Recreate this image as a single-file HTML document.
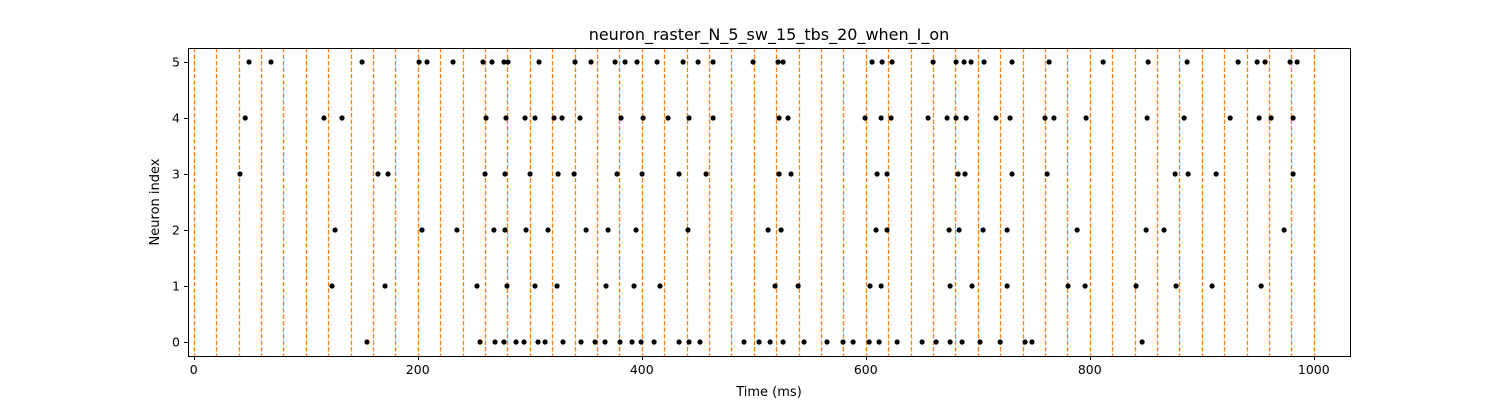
<!DOCTYPE html>
<html><head><meta charset="utf-8"><style>
body{margin:0;background:#fff;}
svg text{font-family:"DejaVu Sans","Liberation Sans",sans-serif;fill:#000;}
</style></head><body>
<svg id="chart" width="1500" height="400" xmlns="http://www.w3.org/2000/svg">
<rect width="1500" height="400" fill="#fff"/>
<text x="769" y="40" font-size="16" text-anchor="middle">neuron_raster_N_5_sw_15_tbs_20_when_I_on</text>
<g id="lines"></g><g id="dots"></g><g id="axes"></g>
<text x="769" y="396" font-size="13" text-anchor="middle">Time (ms)</text>
<text transform="translate(159,202) rotate(-90)" font-size="13" text-anchor="middle">Neuron index</text>
</svg>
<script>
const neuronIds=[0,1,2,3,4,5];
const spikes0=[154.7,255.6,269,277,287.8,294.9,307.4,313.7,329.7,345.8,358.3,367.2,380.6,391.3,399.4,411,433.3,442.2,452,491.3,504.7,514.6,526.2,544.9,565.4,579.7,588.7,603,611.9,628,650.3,662.8,675.3,686,702,720,742.2,748.4,846.7];
const spikes1=[123.5,170.8,252.9,279.7,304.7,324.4,368.1,393.1,416.3,519,539.6,603.8,613.7,675.3,694.9,726.2,780.6,795.8,841.3,877,909.2,953];
const spikes2=[126.2,203.8,235,268,277.9,296.7,316.3,350.3,369.9,394.9,441.3,512.8,524.4,609.2,619,674.4,683.3,704.7,726.2,788.7,850.3,866.3,973.5];
const spikes3=[41.3,164.5,173.5,260.1,277.9,300.3,325.3,339.6,377.9,400.3,433.3,457.4,522.6,533.3,610.1,619,682.4,688.6,730.6,761.9,876.2,887.8,912.8,981.5];
const spikes4=[46,116.3,132.4,261,278.8,295.8,304.7,321.7,328.8,344.9,381.5,401.2,423.5,442.2,463.7,522.6,530.6,599.4,613.7,622.6,655.6,672.6,680.6,689.6,716.3,728.8,760,768,796.7,851.2,884.2,925.3,951.2,961.9,981.5];
const spikes5=[49.4,69,150.3,201.2,208.3,231.5,258.3,266.3,277,280.6,308.3,340.4,354.7,376.2,385.1,395.8,413.7,436.9,450.3,463.7,499.4,521.7,526.2,605.6,614.6,623.5,660.1,680.6,687.8,694,705.6,730.6,763.7,811.9,852.1,886.9,932.4,949.4,956.5,978.8,985.1];
const allSpikes=[spikes0,spikes1,spikes2,spikes3,spikes4,spikes5];
const burstStarts=[0,20,40,60,80,100,120,140,160,180,200,220,240,260,280,300,320,340,360,380,400,420,440,460,480,500,520,540,560,580,600,620,640,660,680,700,720,740,760,780,800,820,840,860,880,900,920,940,960,980,1000];
const xTicks=[0,200,400,600,800,1000];
const yTicks=[0,1,2,3,4,5];

const L=188,R=1350,T=48,B=356;
const xMin=-5.1,xMax=1032.3,yMin=-0.25,yMax=5.25;
const X=v=>L+(v-xMin)/(xMax-xMin)*(R-L);
const Y=v=>B-(v-yMin)/(yMax-yMin)*(B-T);
const snap=v=>Math.round(v)+0.5;
const NS='http://www.w3.org/2000/svg';
function mk(tag,attrs,parent){const e=document.createElementNS(NS,tag);for(const k in attrs)e.setAttribute(k,attrs[k]);parent.appendChild(e);return e;}
const gl=document.getElementById('lines'),gd=document.getElementById('dots'),ga=document.getElementById('axes');
burstStarts.forEach(t=>{
  const l=mk('line',{x1:snap(X(t)),x2:snap(X(t)),y1:T,y2:B,stroke:'#ff7f0e','stroke-width':1.3,'stroke-dasharray':'4.5,2'},gl);
  
  
});
allSpikes.forEach((arr,i)=>{
  arr.forEach(t=>{
    const c=mk('circle',{cx:X(t),cy:Y(neuronIds[i]),r:2.6,fill:'#000'},gd);
    
    
  });
});
const frame=mk('rect',{x:L+0.5,y:T+0.5,width:R-L,height:B-T,fill:'none',stroke:'#000','stroke-width':1},ga);


xTicks.forEach(t=>{
  mk('line',{x1:snap(X(t)),x2:snap(X(t)),y1:B,y2:B+4,stroke:'#000'},ga);
  const tx=mk('text',{x:X(t),y:B+18,'font-size':12.5,'text-anchor':'middle'},ga);
  tx.textContent=t;
  
  
});
yTicks.forEach(t=>{
  mk('line',{x1:L-4,x2:L,y1:snap(Y(t)),y2:snap(Y(t)),stroke:'#000'},ga);
  const tx=mk('text',{x:L-8,y:Y(t)+4.5,'font-size':12.5,'text-anchor':'end'},ga);
  tx.textContent=t;
  
  
});
</script>
</body></html>
